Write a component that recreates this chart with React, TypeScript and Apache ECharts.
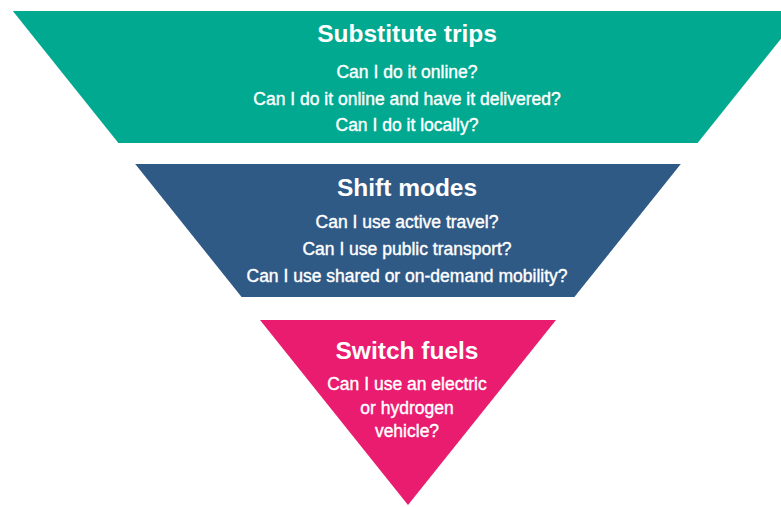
import React, { useEffect, useRef } from "react";
import * as echarts from "echarts";

// Stage names (top to bottom)
const stageNames: string[] = ["Substitute trips", "Shift modes", "Switch fuels"];

// Questions inside each stage
const stageQuestions: string[][] = [
  ["Can I do it online?", "Can I do it online and have it delivered?", "Can I do it locally?"],
  ["Can I use active travel?", "Can I use public transport?", "Can I use shared or on-demand mobility?"],
  ["Can I use an electric", "or hydrogen", "vehicle?"],
];

// Depth (distance above the funnel apex) of each stage's upper and lower edges
const stageTop: number[] = [494, 341, 185];
const stageBottom: number[] = [362, 208, 0];

const stageColors: string[] = ["#00a98f", "#305a86", "#e91c6f"];

// layout (pixels) of the texts inside each stage
const titleOffset = [22, 23, 30];
const firstLineGap = [39, 35, 34];
const lineSpacing = [26.5, 27, 23.5];

const SLOPE = 0.8; // half-width per unit depth of the funnel

export default function App() {
  const ref = useRef<HTMLDivElement>(null);

  useEffect(() => {
    if (!ref.current) return;
    const chart = echarts.init(ref.current, undefined, { renderer: "svg" });
    const font = "Arial, 'Liberation Sans', Helvetica, sans-serif";

    chart.setOption({
      animation: false,
      backgroundColor: "#ffffff",
      grid: { left: 0, right: 0, top: 0, bottom: 0 },
      xAxis: { type: "value", min: -408, max: 373, show: false },
      yAxis: { type: "value", min: -2, max: 505, show: false },
      series: [
        {
          type: "custom",
          clip: false,
          data: stageNames.map((_, i) => [i, stageTop[i], stageBottom[i]]),
          encode: { x: 0, y: [1, 2] },
          renderItem: (params: any, api: any) => {
            const i = api.value(0) as number;
            const top = api.value(1) as number;
            const bottom = api.value(2) as number;
            const pTL = api.coord([-SLOPE * top, top]);
            const pTR = api.coord([SLOPE * top, top]);
            const pBR = api.coord([SLOPE * bottom, bottom]);
            const pBL = api.coord([-SLOPE * bottom, bottom]);
            const cx = api.coord([0, top])[0] - 1;
            const yTop = pTL[1];
            const children: any[] = [
              {
                type: "polygon",
                shape: { points: [pTL, pTR, pBR, pBL] },
                style: { fill: stageColors[i] },
              },
              {
                type: "text",
                x: cx,
                y: yTop + titleOffset[i],
                style: {
                  text: stageNames[i],
                  fill: "#ffffff",
                  fontSize: 24.5,
                  fontWeight: "bold",
                  fontFamily: font,
                  align: "center",
                  verticalAlign: "middle",
                },
              },
            ];
            stageQuestions[i].forEach((q, j) => {
              children.push({
                type: "text",
                x: cx,
                y: yTop + titleOffset[i] + firstLineGap[i] + j * lineSpacing[i],
                style: {
                  text: q,
                  fill: "#ffffff",
                  fontSize: 17.5,
                  fontWeight: "normal",
                  fontFamily: font,
                  align: "center",
                  verticalAlign: "middle",
                  stroke: "#ffffff",
                  lineWidth: 0.4,
                },
              });
            });
            return { type: "group", children };
          },
        },
      ],
    });
    return () => chart.dispose();
  }, []);

  return (
    <div
      ref={ref}
      style={{ position: "absolute", left: 0, top: 0, width: 781, height: 507 }}
    />
  );
}
